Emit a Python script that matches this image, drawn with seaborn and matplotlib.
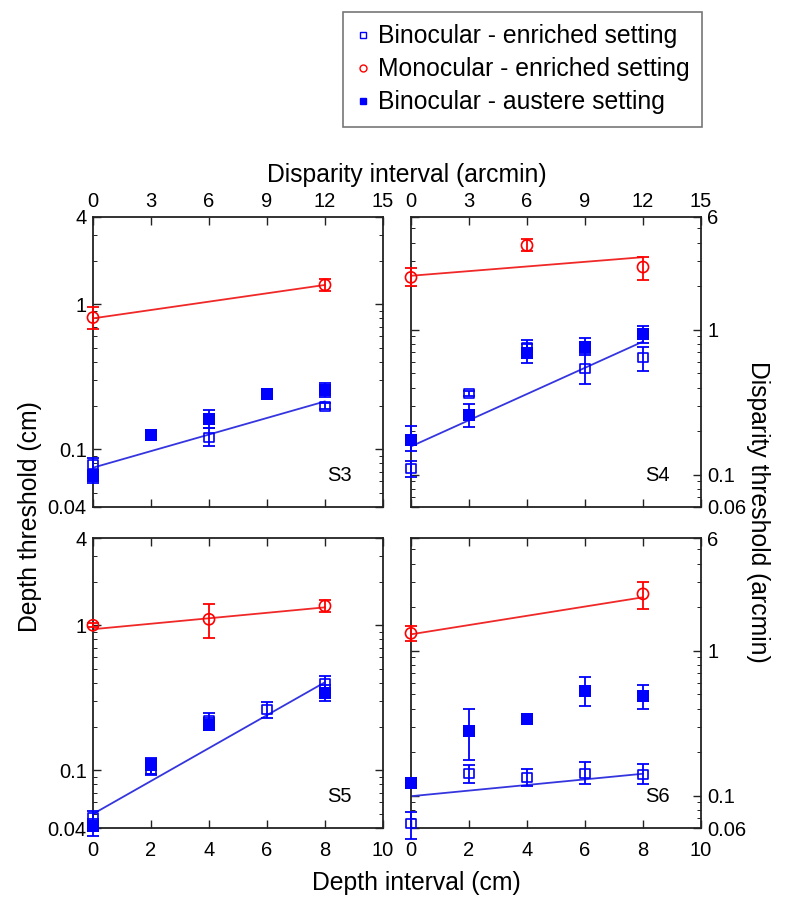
import numpy as np
import pandas as pd
import matplotlib
matplotlib.use("Agg")
import matplotlib.pyplot as plt
from matplotlib.lines import Line2D
from matplotlib.ticker import LogLocator, NullFormatter, FixedLocator, FixedFormatter
import seaborn as sns

sns.set_theme(style="ticks")
plt.rcParams['font.family'] = ['Liberation Sans', 'DejaVu Sans']
plt.rcParams['text.color'] = 'black'
plt.rcParams['axes.labelcolor'] = 'black'
plt.rcParams['xtick.color'] = 'black'
plt.rcParams['ytick.color'] = 'black'

# ---------------- data ----------------
# S3 (x: disparity arcmin, y: depth threshold cm)
s3_enr_x = [0, 6, 12]
s3_enr_y = [0.079, 0.12, 0.198]
s3_enr_lo = [0.072, 0.105, 0.19]
s3_enr_hi = [0.087, 0.14, 0.21]
s3_mono_x = [0, 12]
s3_mono_y = [0.81, 1.36]
s3_mono_lo = [0.68, 1.24]
s3_mono_hi = [0.96, 1.49]
s3_aus_x = [0, 3, 6, 9, 12]
s3_aus_y = [0.065, 0.126, 0.161, 0.239, 0.255]
s3_aus_lo = [0.059, 0.12, 0.141, np.nan, 0.228]
s3_aus_hi = [0.072, 0.133, 0.186, np.nan, 0.285]
s3_fit_x = [0, 12]
s3_fit_enr = [0.0747, 0.214]
s3_fit_mono = [0.80, 1.36]

# S4 (x: disparity arcmin, y: disparity threshold arcmin)
s4_enr_x = [0, 3, 6, 9, 12]
s4_enr_y = [0.111, 0.366, 0.76, 0.538, 0.648]
s4_enr_lo = [0.097, 0.35, 0.70, 0.42, 0.524]
s4_enr_hi = [0.124, 0.38, 0.85, 0.69, 0.767]
s4_mono_x = [0, 6, 12]
s4_mono_y = [2.30, 3.82, 2.71]
s4_mono_lo = [1.99, 3.5, 2.21]
s4_mono_hi = [2.66, 4.22, 3.2]
s4_aus_x = [0, 3, 6, 9, 12]
s4_aus_y = [0.174, 0.257, 0.69, 0.76, 0.934]
s4_aus_lo = [0.145, 0.215, 0.59, 0.672, 0.81]
s4_aus_hi = [0.218, 0.307, 0.80, 0.877, 1.07]
s4_fit_x = [0, 12]
s4_fit_enr = [0.157, 0.83]
s4_fit_mono = [2.36, 3.17]

# S5 (x: depth cm, y: depth threshold cm)
s5_enr_x = [0, 2, 4, 6, 8]
s5_enr_y = [0.0474, 0.102, 0.219, 0.261, 0.399]
s5_enr_lo = [0.043, 0.093, 0.19, 0.229, 0.36]
s5_enr_hi = [0.052, 0.1215, 0.248, 0.298, 0.45]
s5_mono_x = [0, 4, 8]
s5_mono_y = [1.0, 1.10, 1.36]
s5_mono_lo = [0.97, 0.814, 1.23]
s5_mono_hi = [1.03, 1.40, 1.49]
s5_aus_x = [0, 2, 4, 8]
s5_aus_y = [0.0416, 0.108, 0.206, 0.34]
s5_aus_lo = [0.0355, 0.095, 0.19, 0.30]
s5_aus_hi = [0.046, 0.12, 0.23, 0.39]
s5_fit_x = [0, 8]
s5_fit_enr = [0.05, 0.405]
s5_fit_mono = [0.94, 1.33]

# S6 (x: depth cm, y: disparity threshold arcmin)
s6_enr_x = [0, 2, 4, 6, 8]
s6_enr_y = [0.064, 0.142, 0.133, 0.142, 0.141]
s6_enr_lo = [0.0506, 0.123, 0.116, 0.12, 0.121]
s6_enr_hi = [0.077, 0.164, 0.153, 0.17, 0.165]
s6_mono_x = [0, 8]
s6_mono_y = [1.32, 2.47]
s6_mono_lo = [1.16, 1.94]
s6_mono_hi = [1.49, 3.0]
s6_aus_x = [0, 2, 4, 6, 8]
s6_aus_y = [0.123, 0.278, 0.34, 0.53, 0.485]
s6_aus_lo = [np.nan, 0.178, np.nan, 0.414, 0.397]
s6_aus_hi = [np.nan, 0.397, np.nan, 0.665, 0.583]
s6_fit_x = [0, 8]
s6_fit_enr = [0.0994, 0.142]
s6_fit_mono = [1.30, 2.34]

subjects = ["S3", "S4", "S5", "S6"]
legend_labels = ["Binocular - enriched setting", "Monocular - enriched setting",
                 "Binocular - austere setting"]

disp_ticks = [0, 3, 6, 9, 12, 15]
depth_ticks = [0, 2, 4, 6, 8, 10]
cm_yticks = [0.04, 0.1, 1, 4]
cm_ylabels = ["0.04", "0.1", "1", "4"]
arc_yticks = [0.06, 0.1, 1, 6]
arc_ylabels = ["0.06", "0.1", "1", "6"]

BLUE = "#0000ff"
BLUE_LINE = "#3535e0"
RED = "#ff0000"
RED_LINE = "#f02828"

panels = {
    "S3": dict(enr=(s3_enr_x, s3_enr_y, s3_enr_lo, s3_enr_hi),
               mono=(s3_mono_x, s3_mono_y, s3_mono_lo, s3_mono_hi),
               aus=(s3_aus_x, s3_aus_y, s3_aus_lo, s3_aus_hi),
               fit=(s3_fit_x, s3_fit_enr, s3_fit_mono)),
    "S4": dict(enr=(s4_enr_x, s4_enr_y, s4_enr_lo, s4_enr_hi),
               mono=(s4_mono_x, s4_mono_y, s4_mono_lo, s4_mono_hi),
               aus=(s4_aus_x, s4_aus_y, s4_aus_lo, s4_aus_hi),
               fit=(s4_fit_x, s4_fit_enr, s4_fit_mono)),
    "S5": dict(enr=(s5_enr_x, s5_enr_y, s5_enr_lo, s5_enr_hi),
               mono=(s5_mono_x, s5_mono_y, s5_mono_lo, s5_mono_hi),
               aus=(s5_aus_x, s5_aus_y, s5_aus_lo, s5_aus_hi),
               fit=(s5_fit_x, s5_fit_enr, s5_fit_mono)),
    "S6": dict(enr=(s6_enr_x, s6_enr_y, s6_enr_lo, s6_enr_hi),
               mono=(s6_mono_x, s6_mono_y, s6_mono_lo, s6_mono_hi),
               aus=(s6_aus_x, s6_aus_y, s6_aus_lo, s6_aus_hi),
               fit=(s6_fit_x, s6_fit_enr, s6_fit_mono)),
}

# ---------------- figure ----------------
W, H = 788, 908
fig = plt.figure(figsize=(W / 100, H / 100), dpi=100)

pw, ph = 290 / W, 290 / H
pos = {
    "S3": [93 / W, 1 - 507 / H, pw, ph],
    "S4": [411 / W, 1 - 507 / H, pw, ph],
    "S5": [93 / W, 1 - 828 / H, pw, ph],
    "S6": [411 / W, 1 - 828 / H, pw, ph],
}

TICK_FS = 14.5


def errbars(ax, x, y, lo, hi, color):
    x = np.asarray(x, float); y = np.asarray(y, float)
    lo = np.asarray(lo, float); hi = np.asarray(hi, float)
    m = ~np.isnan(lo)
    if m.any():
        ax.errorbar(x[m], y[m], yerr=[y[m] - lo[m], hi[m] - y[m]], fmt="none",
                    ecolor=color, elinewidth=1.3, capsize=4.0, capthick=1.3,
                    clip_on=False, zorder=3)


for name in subjects:
    d = panels[name]
    ax = fig.add_axes(pos[name])
    top = name in ("S3", "S4")
    right = name in ("S4", "S6")
    ax.set_yscale("log")
    ax.set_xlim(0, 15 if top else 10)
    if right:
        ax.set_ylim(0.06, 6)
    else:
        ax.set_ylim(0.04, 4)

    fx, fenr, fmono = d["fit"]
    sns.lineplot(x=fx, y=fmono, ax=ax, color=RED_LINE, lw=1.3, zorder=2)
    sns.lineplot(x=fx, y=fenr, ax=ax, color=BLUE_LINE, lw=1.3, zorder=2)

    errbars(ax, *d["enr"], BLUE)
    errbars(ax, *d["mono"], RED)
    errbars(ax, *d["aus"], BLUE)

    ex, ey, _, _ = d["enr"]
    mx, my, _, _ = d["mono"]
    axx, ayy, _, _ = d["aus"]
    sns.scatterplot(x=ex, y=ey, ax=ax, marker="s", s=42, facecolor="none",
                    edgecolor=BLUE, linewidth=1.2, zorder=4, clip_on=False)
    sns.scatterplot(x=mx, y=my, ax=ax, marker="o", s=64, facecolor="none",
                    edgecolor=RED, linewidth=1.2, zorder=4, clip_on=False)
    sns.scatterplot(x=axx, y=ayy, ax=ax, marker="s", s=64, color=BLUE,
                    edgecolor=BLUE, linewidth=0, zorder=5, clip_on=False)

    xt = disp_ticks if top else depth_ticks
    ax.xaxis.set_major_locator(FixedLocator(xt))
    ax.xaxis.set_major_formatter(FixedFormatter([str(t) for t in xt]))
    yt = arc_yticks if right else cm_yticks
    yl = arc_ylabels if right else cm_ylabels
    ax.yaxis.set_major_locator(FixedLocator(yt))
    ax.yaxis.set_major_formatter(FixedFormatter(yl))
    ax.yaxis.set_minor_locator(LogLocator(base=10, subs=np.arange(2, 10)))
    ax.yaxis.set_minor_formatter(NullFormatter())

    ax.tick_params(which="both", direction="in", top=True, bottom=True,
                   left=True, right=True, colors="#222222", labelcolor="black")
    ax.tick_params(which="major", length=6, width=1.0, labelsize=TICK_FS)
    ax.tick_params(which="minor", length=3, width=0.7)
    ax.tick_params(axis="x", which="major", pad=4.0 if top else 9.5)
    ax.tick_params(axis="y", which="major", pad=4.5)
    ax.tick_params(axis="x", labeltop=top, labelbottom=not top)
    ax.tick_params(axis="y", labelleft=not right, labelright=right)
    for sp in ax.spines.values():
        sp.set_visible(True)
        sp.set_linewidth(1.3)
        sp.set_color("#222222")
    ax.set_xlabel("")
    ax.set_ylabel("")
    if ax.get_legend() is not None:
        ax.get_legend().remove()

    ax.text(0.85, 0.11, name, transform=ax.transAxes, fontsize=14.5,
            ha="center", va="center", color="black")

# axis titles
LAB_FS = 17.8
fig.text(0.516, 1 - 175 / H, "Disparity interval (arcmin)", ha="center", va="center", fontsize=LAB_FS)
fig.text(0.528, 1 - 883 / H, "Depth interval (cm)", ha="center", va="center", fontsize=LAB_FS)
fig.text(30 / W, 1 - 517 / H, "Depth threshold (cm)", ha="center", va="center",
         rotation=90, fontsize=LAB_FS)
fig.text(758 / W, 1 - 512 / H, "Disparity threshold (arcmin)", ha="center", va="center",
         rotation=270, fontsize=LAB_FS)

# legend
handles = [
    Line2D([], [], marker="s", linestyle="none", markerfacecolor="none",
           markeredgecolor=BLUE, markersize=5, markeredgewidth=1.0),
    Line2D([], [], marker="o", linestyle="none", markerfacecolor="none",
           markeredgecolor=RED, markersize=5, markeredgewidth=1.0),
    Line2D([], [], marker="s", linestyle="none", markerfacecolor=BLUE,
           markeredgecolor=BLUE, markersize=5),
]
leg = fig.legend(handles, legend_labels, loc="upper right",
                 bbox_to_anchor=(702 / W, 1 - 12 / H), fontsize=17.8,
                 frameon=True, fancybox=False, edgecolor="#555555",
                 handlelength=0.6, handletextpad=0.3, labelspacing=0.36,
                 borderpad=0.5, borderaxespad=0)
leg.get_frame().set_linewidth(1.2)

fig.savefig("out.png", dpi=100)
